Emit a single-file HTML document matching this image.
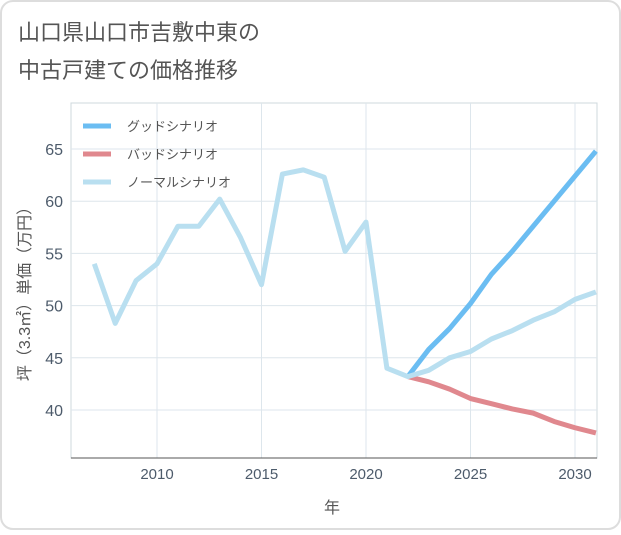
<!DOCTYPE html>
<html><head><meta charset="utf-8"><style>
body{margin:0;background:#fff;font-family:"Liberation Sans","Noto Sans CJK JP",sans-serif;}
</style></head><body>
<svg width="621" height="530" xmlns="http://www.w3.org/2000/svg">
<rect x="1" y="1" width="619" height="528" rx="12" fill="#fff" stroke="#ddd" stroke-width="2"/>
<text x="18" y="40" font-size="22" fill="#555">山口県山口市吉敷中東の</text>
<text x="18" y="78" font-size="22" fill="#555">中古戸建ての価格推移</text>
<g id="grid"></g>
<g id="series"></g>
<g id="axes"></g>
<text x="332" y="513" font-size="16" fill="#555" text-anchor="middle">年</text>
<text transform="translate(30,290) rotate(-90)" font-size="16" fill="#555" text-anchor="middle">坪（3.3㎡）単価（万円）</text>
<g>
<line x1="83" y1="126" x2="111" y2="126" stroke="#6bbdf2" stroke-width="5"/>
<text x="127" y="131" font-size="13" fill="#555">グッドシナリオ</text>
<line x1="83" y1="154" x2="111" y2="154" stroke="#e0888e" stroke-width="5"/>
<text x="127" y="159" font-size="13" fill="#555">バッドシナリオ</text>
<line x1="83" y1="182" x2="111" y2="182" stroke="#b9dff0" stroke-width="5"/>
<text x="127" y="187" font-size="13" fill="#555">ノーマルシナリオ</text>
</g>
</svg>
<script>
const years=[2007,2008,2009,2010,2011,2012,2013,2014,2015,2016,2017,2018,2019,2020,2021,2022,2023,2024,2025,2026,2027,2028,2029,2030,2031];
const normal=[54,48.3,52.4,54,57.6,57.6,60.2,56.5,52,62.6,63,62.3,55.2,58,44,43.2,43.8,45,45.6,46.8,47.6,48.6,49.4,50.6,51.3];
const futureYears=[2022,2023,2024,2025,2026,2027,2028,2029,2030,2031];
const good=[43.2,45.8,47.8,50.2,53,55.2,57.6,60,62.4,64.8];
const bad=[43.2,42.7,42,41.1,40.6,40.1,39.7,38.9,38.3,37.8];
const xTicks=[2010,2015,2020,2025,2030];
const yTicks=[40,45,50,55,60,65];
const L=71,R=597,T=103,B=458;
const x=v=>157+(v-2010)*20.9;
const y=v=>149+(65-v)*10.44;
const NS="http://www.w3.org/2000/svg";
function mk(tag,attrs,parent){const e=document.createElementNS(NS,tag);for(const k in attrs)e.setAttribute(k,attrs[k]);parent.appendChild(e);return e;}
const grid=document.getElementById('grid'),axes=document.getElementById('axes'),ser=document.getElementById('series');
let r=mk('rect',{x:L,y:T,width:R-L,height:B-T,fill:'none',stroke:'#cfd8dd'},grid);


xTicks.forEach(t=>{
 const l=mk('line',{x1:x(t),x2:x(t),y1:T,y2:B,stroke:'#dde6ec'},grid);
 
 
 const tx=mk('text',{x:x(t),y:B+21,'font-size':15,fill:'#4d5b6b','text-anchor':'middle'},axes);
 tx.textContent=t;
 
 
});
yTicks.forEach(t=>{
 const l=mk('line',{x1:L,x2:R,y1:y(t),y2:y(t),stroke:'#dde6ec'},grid);
 
 
 const tx=mk('text',{x:L-8,y:y(t)+6,'font-size':16,fill:'#4d5b6b','text-anchor':'end'},axes);
 tx.textContent=t;
 
 
});
const ax=mk('line',{x1:L,x2:R,y1:B,y2:B,stroke:'#555'},axes);


function line(xs,ys,color,name){
 const p=mk('polyline',{points:xs.map((v,i)=>x(v)+','+y(ys[i])).join(' '),fill:'none',stroke:color,'stroke-width':5,'stroke-linejoin':'round'},ser);
 
 
}
line(futureYears,bad,'#e0888e','bad-scenario-line');
line(futureYears,good,'#6bbdf2','good-scenario-line');
line(years,normal,'#b9dff0','normal-scenario-line');
</script>
</body></html>
